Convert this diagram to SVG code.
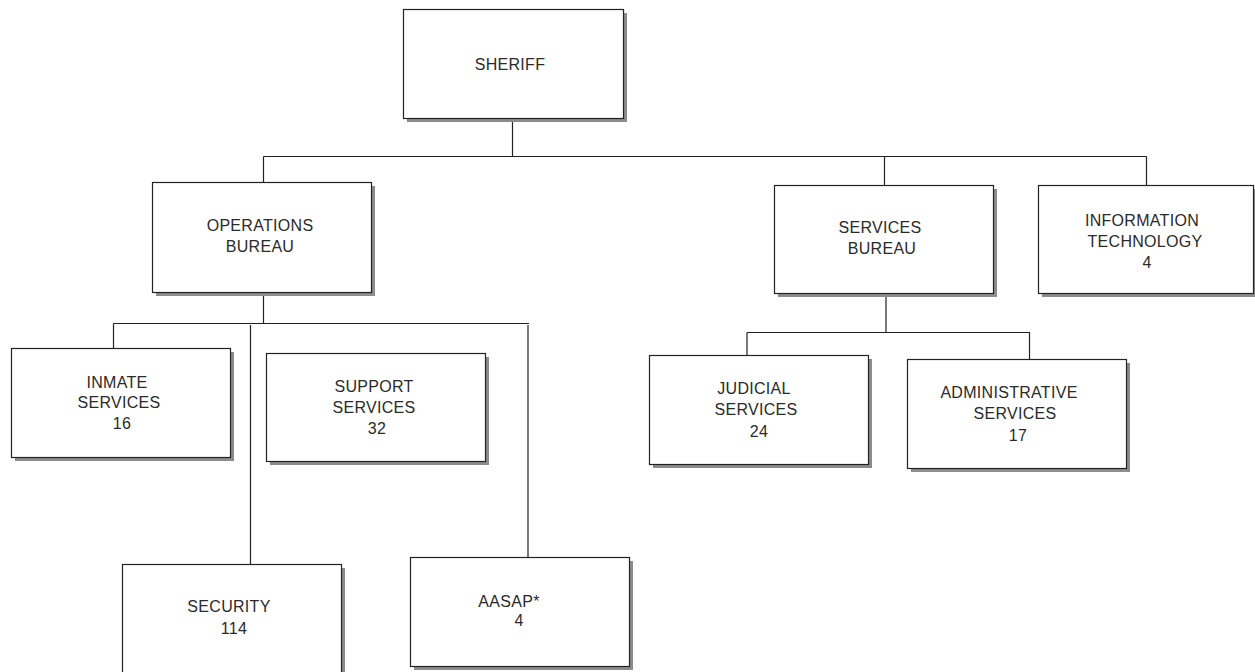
<svg xmlns="http://www.w3.org/2000/svg" width="1255" height="672" viewBox="0 0 1255 672">
<style>
.bg{fill:#ffffff}
.sh{fill:#8c8c8c}
.bx{fill:#ffffff;stroke:#222222;stroke-width:1.2}
.ln{stroke:#222222;stroke-width:1.2;fill:none}
.t{font-family:"Liberation Sans",Arial,sans-serif;font-size:16px;fill:#2a2a2a;text-anchor:middle;letter-spacing:0.3px}
</style>
<rect class="bg" x="0" y="0" width="1255" height="672"/>
<g id="connectors">
<path class="ln" d="M512.5,118 V156.5 M263.5,156.5 H1146.5 M263.5,156.5 V182 M884.5,156.5 V185 M1146.5,156.5 V185"/>
<path class="ln" d="M263.5,292 V323.5 M113.5,323.5 H529 M113.5,323.5 V348 M250.5,325 V564 M528,325 V557"/>
<path class="ln" d="M886,293 V332.5 M747,332.5 H1030 M747,332.5 V355 M1029.5,332.5 V359"/>
</g>
<g id="sheriff">
<rect class="sh" x="407" y="13" width="220" height="109"/>
<rect class="bx" x="403.5" y="9.5" width="220" height="109"/>
<text class="t" x="510" y="70">SHERIFF</text>
</g>
<g id="operations-bureau">
<rect class="sh" x="156" y="186" width="219" height="110"/>
<rect class="bx" x="152.5" y="182.5" width="219" height="110"/>
<text class="t" x="260" y="231">OPERATIONS</text>
<text class="t" x="260" y="252">BUREAU</text>
</g>
<g id="services-bureau">
<rect class="sh" x="778" y="189" width="219" height="108"/>
<rect class="bx" x="774.5" y="185.5" width="219" height="108"/>
<text class="t" x="880" y="233">SERVICES</text>
<text class="t" x="882" y="254">BUREAU</text>
</g>
<g id="information-technology">
<rect class="sh" x="1042" y="189" width="215" height="108"/>
<rect class="bx" x="1038.5" y="185.5" width="215" height="108"/>
<text class="t" x="1142" y="226">INFORMATION</text>
<text class="t" x="1145" y="247">TECHNOLOGY</text>
<text class="t" x="1147" y="268">4</text>
</g>
<g id="inmate-services">
<rect class="sh" x="15" y="352" width="219" height="109"/>
<rect class="bx" x="11.5" y="348.5" width="219" height="109"/>
<text class="t" x="117" y="388">INMATE</text>
<text class="t" x="119" y="408">SERVICES</text>
<text class="t" x="122" y="429">16</text>
</g>
<g id="support-services">
<rect class="sh" x="270" y="357" width="219" height="108"/>
<rect class="bx" x="266.5" y="353.5" width="219" height="108"/>
<text class="t" x="374" y="392">SUPPORT</text>
<text class="t" x="374" y="413">SERVICES</text>
<text class="t" x="377" y="434">32</text>
</g>
<g id="security">
<rect class="sh" x="126" y="568" width="219" height="120"/>
<rect class="bx" x="122.5" y="564.5" width="219" height="120"/>
<text class="t" x="229" y="612">SECURITY</text>
<text class="t" x="234" y="634">114</text>
</g>
<g id="aasap">
<rect class="sh" x="414" y="561" width="219" height="109"/>
<rect class="bx" x="410.5" y="557.5" width="219" height="109"/>
<text class="t" x="509" y="607">AASAP*</text>
<text class="t" x="519" y="626">4</text>
</g>
<g id="judicial-services">
<rect class="sh" x="653" y="359" width="219" height="109"/>
<rect class="bx" x="649.5" y="355.5" width="219" height="109"/>
<text class="t" x="754" y="394">JUDICIAL</text>
<text class="t" x="756" y="415">SERVICES</text>
<text class="t" x="759" y="437">24</text>
</g>
<g id="administrative-services">
<rect class="sh" x="911" y="363" width="219" height="109"/>
<rect class="bx" x="907.5" y="359.5" width="219" height="109"/>
<text class="t" x="1009" y="398">ADMINISTRATIVE</text>
<text class="t" x="1015" y="419">SERVICES</text>
<text class="t" x="1018" y="441">17</text>
</g>
</svg>
